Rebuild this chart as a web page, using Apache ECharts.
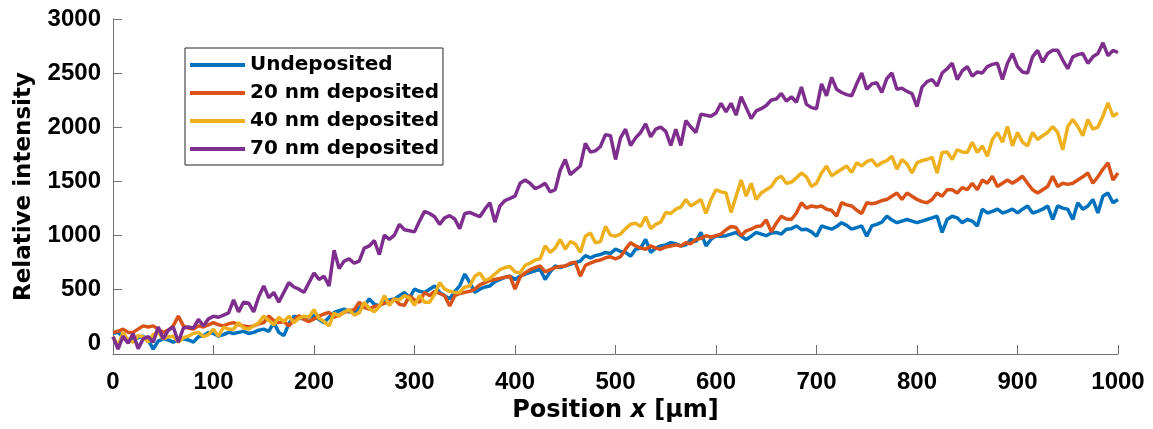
<!DOCTYPE html>
<html>
<head>
<meta charset="utf-8">
<script src="https://cdn.jsdelivr.net/npm/echarts@6/dist/echarts.min.js"></script>
<style>html,body{margin:0;padding:0;background:#fff}#c{width:1153px;height:429px}</style>
</head>
<body>
<div id="c"></div>
<script>
// Positions sampled every 5 µm from 0 to 1000
const STEP = 5;
const seriesNames = ['Undeposited', '20 nm deposited', '40 nm deposited', '70 nm deposited'];
const xTicks = [0,100,200,300,400,500,600,700,800,900,1000];
const yTicks = [0,500,1000,1500,2000,2500,3000];

const undeposited = [90,100,60,10,40,50,65,30,-55,20,40,30,10,30,40,30,10,60,70,100,
90,65,80,100,90,100,110,90,100,120,130,110,190,100,70,180,250,230,225,240,
255,220,190,240,285,300,315,290,285,330,345,410,360,345,380,400,410,440,470,420,
500,480,470,500,530,470,440,410,480,530,640,560,470,500,520,530,570,590,610,620,
590,620,640,655,670,685,590,660,715,700,715,730,745,760,810,790,810,820,840,830,
870,850,840,805,870,880,960,840,880,900,910,930,920,900,910,960,940,1025,900,960,
995,990,995,1010,1025,990,960,990,1025,1010,995,1020,1025,1010,1055,1060,1085,1050,1055,1030,
990,1085,1070,1055,1080,1115,1090,1055,1070,1085,990,1085,1100,1120,1175,1140,1115,1130,1145,1130,
1115,1130,1145,1160,1175,1025,1145,1175,1160,1115,1145,1130,1085,1240,1205,1220,1240,1205,1220,1240,
1205,1240,1270,1205,1220,1240,1270,1145,1270,1250,1240,1145,1300,1240,1270,1330,1205,1360,1390,1300,
1330];

const dep20 = [100,110,130,100,100,130,160,150,160,130,100,120,160,250,160,140,130,160,150,170,
190,170,160,180,190,170,160,150,160,180,190,250,210,190,200,160,210,255,220,200,
225,250,270,285,240,260,285,300,310,380,330,315,340,350,370,380,410,360,350,440,
400,380,470,440,480,460,440,345,440,460,470,480,500,540,560,580,590,600,610,620,
500,610,650,680,700,715,660,680,700,710,715,740,750,620,720,740,760,770,790,800,
780,800,870,930,900,880,870,900,880,870,890,900,910,900,930,920,960,970,995,980,
995,1010,1050,1080,1070,995,1040,1055,1080,1085,1140,1030,1110,1175,1150,1145,1205,1300,1250,1270,
1260,1270,1240,1230,1175,1300,1280,1270,1230,1200,1300,1290,1300,1320,1330,1360,1390,1330,1390,1360,
1330,1310,1300,1330,1390,1360,1420,1420,1390,1440,1420,1480,1420,1510,1480,1545,1450,1480,1510,1480,
1510,1545,1480,1420,1390,1420,1450,1545,1450,1480,1470,1480,1510,1540,1575,1480,1540,1610,1670,1510,
1575];

const dep40 = [60,-25,100,30,10,70,60,10,80,100,40,60,65,10,50,65,90,100,60,80,
130,65,150,130,130,190,140,130,160,190,250,210,170,240,200,250,190,230,250,240,
310,230,200,160,280,250,290,310,260,280,380,320,290,340,440,350,410,400,440,420,
350,440,380,380,450,560,500,480,470,470,520,530,620,650,580,600,640,680,700,710,
660,650,720,740,770,780,900,840,880,960,870,940,920,840,990,1020,930,940,1080,1000,
990,1010,1060,1100,1110,1080,1170,1060,1100,1120,1210,1200,1240,1260,1330,1270,1300,1330,1200,1330,
1420,1400,1390,1210,1360,1510,1360,1480,1330,1390,1420,1450,1520,1545,1480,1490,1530,1575,1540,1450,
1480,1575,1640,1550,1580,1610,1640,1580,1670,1640,1680,1700,1640,1670,1690,1730,1610,1700,1660,1575,
1670,1690,1700,1720,1575,1765,1770,1700,1790,1770,1765,1860,1765,1825,1730,1885,1950,1860,2005,1825,
1950,1860,1825,1950,1885,1920,1950,2005,1950,1790,2005,2070,2005,1920,2070,1980,2000,2100,2225,2100,
2130];

const dep70 = [60,-55,65,0,90,-50,40,60,10,150,40,120,150,10,140,150,140,220,160,225,
250,240,260,280,400,290,380,370,290,430,530,420,470,380,470,560,520,500,470,560,
650,590,620,530,860,690,760,780,740,760,880,900,950,820,1000,960,1000,1100,1050,1040,
1030,1130,1220,1200,1170,1100,1160,1180,1150,1060,1200,1210,1190,1170,1240,1300,1120,1270,1320,1340,
1360,1480,1510,1480,1430,1450,1480,1400,1420,1600,1700,1560,1600,1640,1850,1770,1780,1820,1930,1920,
1700,1900,1980,1830,1900,1950,2030,1910,1980,2000,1960,1830,1980,1830,2060,2000,1950,2120,2110,2100,
2130,2220,2140,2220,2110,2280,2180,2080,2150,2170,2200,2250,2260,2310,2240,2280,2230,2370,2210,2180,
2170,2400,2290,2460,2350,2320,2300,2290,2400,2500,2350,2400,2410,2320,2450,2500,2350,2360,2330,2310,
2190,2370,2420,2440,2380,2500,2540,2590,2440,2520,2560,2470,2510,2500,2560,2580,2590,2440,2590,2680,
2560,2510,2500,2650,2710,2600,2680,2710,2710,2620,2540,2650,2670,2680,2590,2650,2680,2780,2660,2710,
2690];

const colors = ['#0072BD', '#D95319', '#EDB120', '#7E2F8E'];
const allValues = [undeposited, dep20, dep40, dep70];

function pairs(vals) { return vals.map((v, i) => [i * STEP, v]); }

const TICKFONT = 'Liberation Sans';
const TITLEFONT = 'DejaVu Sans';
const AXIS = '#707070';
const chart = echarts.init(document.getElementById('c'), null, {renderer: 'canvas'});
chart.setOption({
  animation: false,
  backgroundColor: '#fff',
  grid: {left: 113, right: 35, top: 19, bottom: 75, containLabel: false, outerBoundsMode: 'none'},
  legend: {
    orient: 'vertical',
    left: 185, top: 48,
    padding: [5, 4, 4, 5],
    backgroundColor: '#fff',
    borderColor: '#262626', borderWidth: 1,
    icon: 'rect',
    itemWidth: 55, itemHeight: 4,
    itemGap: 4,
    textStyle: {fontFamily: TITLEFONT, fontWeight: 'bold', fontSize: 20, color: '#000', lineHeight: 24},
    data: seriesNames
  },
  xAxis: {
    type: 'value', min: 0, max: 1000, interval: 100,
    name: '{a|Position }{b|x}{a| [µm]}',
    nameLocation: 'middle', nameGap: 44,
    nameTextStyle: {rich: {
      a: {fontFamily: TITLEFONT, fontWeight: 'bold', fontSize: 24, color: '#000'},
      b: {fontFamily: TITLEFONT, fontWeight: 'bold', fontStyle: 'italic', fontSize: 24, color: '#000'}
    }},
    axisLine: {show: true, onZero: false, lineStyle: {color: AXIS, width: 1}},
    axisTick: {show: true, inside: true, length: 9, lineStyle: {color: AXIS}},
    axisLabel: {fontFamily: TICKFONT, fontWeight: 'bold', fontSize: 24, color: '#000', margin: 16,
      formatter: v => String(v)},
    splitLine: {show: false}
  },
  yAxis: {
    type: 'value', min: -100, max: 3000,
    name: 'Relative intensity',
    nameLocation: 'middle', nameGap: 77, nameRotate: 90,
    nameTextStyle: {fontFamily: TITLEFONT, fontWeight: 'bold', fontSize: 23, color: '#000'},
    axisLine: {show: true, onZero: false, lineStyle: {color: AXIS, width: 1}},
    axisTick: {show: true, inside: true, length: 9, lineStyle: {color: AXIS}, customValues: yTicks},
    axisLabel: {fontFamily: TICKFONT, fontWeight: 'bold', fontSize: 24, color: '#000', margin: 12,
      customValues: yTicks, formatter: v => String(v)},
    splitLine: {show: false}
  },
  series: allValues.map((vals, k) => ({
    name: seriesNames[k],
    type: 'line',
    data: pairs(vals),
    showSymbol: false, symbol: 'none',
    lineStyle: {color: colors[k], width: 3.5},
    itemStyle: {color: colors[k]},
    z: 2 + k
  }))
});
</script>
</body>
</html>
